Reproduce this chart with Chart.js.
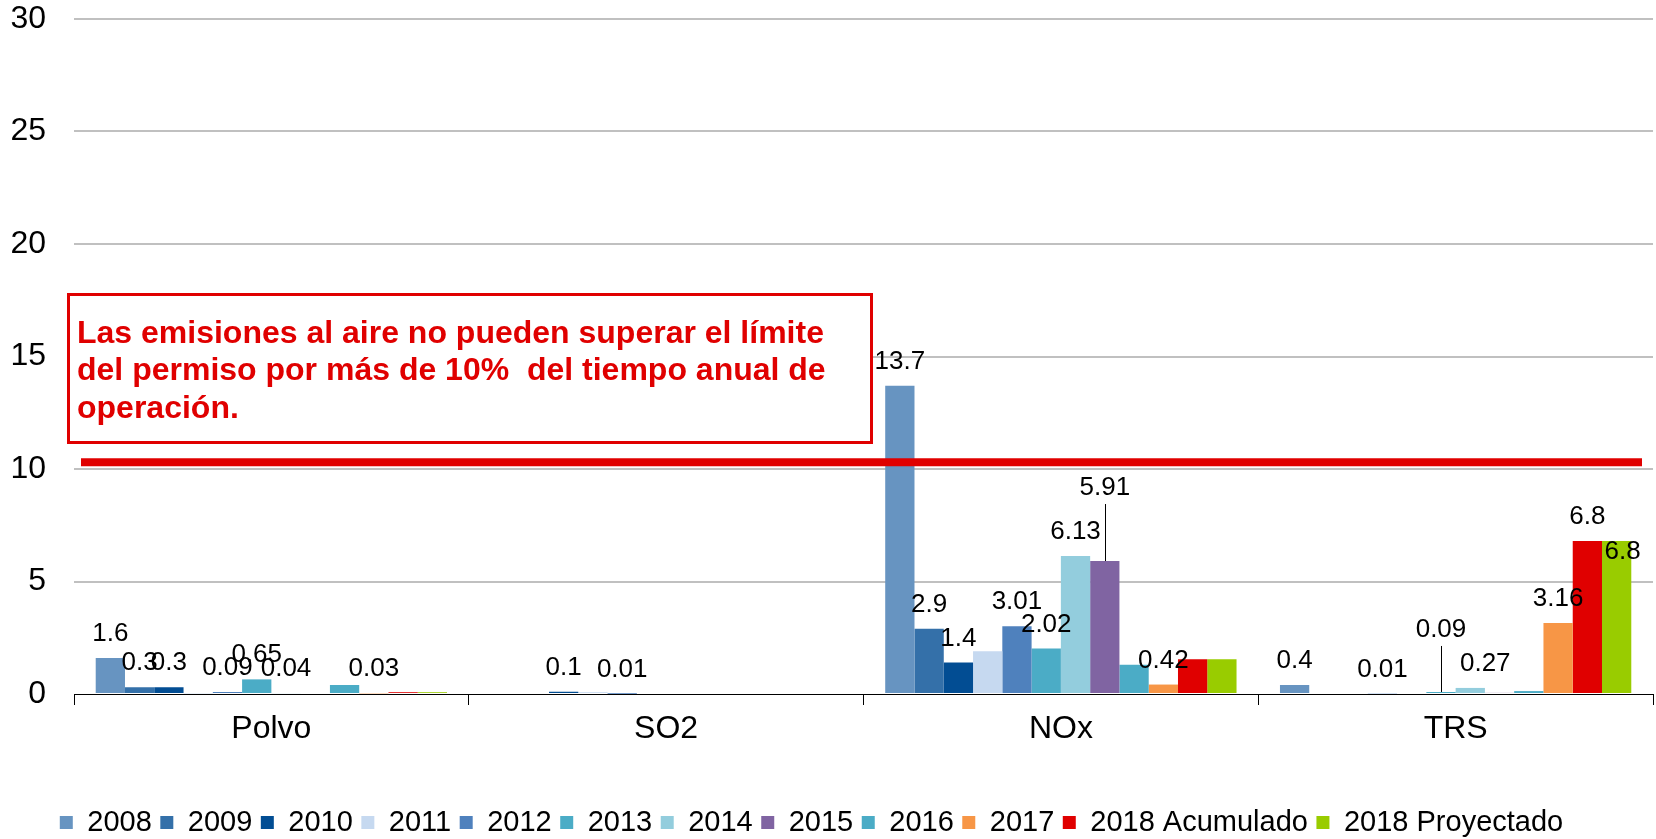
<!DOCTYPE html>
<html>
<head>
<meta charset="utf-8">
<script src="https://cdn.jsdelivr.net/npm/chart.js@4.4.1/dist/chart.umd.min.js"></script>
<style>
  html, body { margin: 0; padding: 0; background: #fff; }
  canvas { display: block; }
</style>
</head>
<body>
<canvas id="chart" width="1656" height="839"></canvas>
<script>
const categories = ["Polvo", "SO2", "NOx", "TRS"];
const seriesNames = ["2008", "2009", "2010", "2011", "2012", "2013", "2014", "2015", "2016", "2017", "2018 Acumulado", "2018 Proyectado"];

// values per year, in category order
const v2008 = [1.6, 0, 13.7, 0.4];
const v2009 = [0.3, 0, 2.9, 0];
const v2010 = [0.3, 0.1, 1.4, 0];
const v2011 = [0.03, 0.08, 1.9, 0.01];
const v2012 = [0.09, 0.01, 3.01, 0];
const v2013 = [0.65, 0, 2.02, 0.09];
const v2014 = [0.04, 0, 6.13, 0.27];
const v2015 = [0, 0, 5.91, 0.05];
const v2016 = [0.4, 0, 1.3, 0.13];
const v2017 = [0.03, 0, 0.42, 3.16];
const v2018a = [0.08, 0, 1.55, 6.8];
const v2018p = [0.08, 0, 1.55, 6.8];
const seriesValues = [v2008, v2009, v2010, v2011, v2012, v2013, v2014, v2015, v2016, v2017, v2018a, v2018p];

// which points carry a value label (category indexes)
const labelled = [[0, 2, 3], [0, 2], [0, 1, 2], [3], [0, 1, 2], [0, 2, 3], [0, 2, 3], [2], [], [0, 2, 3], [3], [3]];

const yMin = 0;
const yMax = 30;
const yStep = 5;
const limitValue = 10.3;
const noteLines = [
  "Las emisiones al aire no pueden superar el límite",
  "del permiso por más de 10%  del tiempo anual de",
  "operación."
];

const colors = ["#6794C1", "#3470A9", "#024D93", "#C6D9F0", "#4F81BD", "#4BACC6", "#93CDDD", "#8064A2", "#4BACC6", "#F79646", "#E00000", "#99CC00"];
const RED = "#E00000";
const FONT = "'Liberation Sans', Arial, sans-serif";

// label shifts where the original moved a label off its bar: [dx, dy, leader line]
const nudges = {
  "7-2": [0, -49, true],
  "5-3": [0, -38, true],
  "6-3": [15, 0, false],
  "11-3": [6, 35, false]
};

const overlay = {
  id: "overlay",
  afterDatasetsDraw(chart) {
    const ctx = chart.ctx;
    const area = chart.chartArea;
    const y = chart.scales.y;
    ctx.save();

    // limit line
    const ly = y.getPixelForValue(limitValue);
    ctx.strokeStyle = RED;
    ctx.lineWidth = 8;
    ctx.beginPath();
    ctx.moveTo(area.left + 7, ly);
    ctx.lineTo(area.right - 11, ly);
    ctx.stroke();

    // note box
    const bx = area.left - 5.5, by = area.top + 275.5;
    ctx.fillStyle = "#fff";
    ctx.fillRect(bx, by, 803, 148);
    ctx.lineWidth = 3;
    ctx.strokeRect(bx, by, 803, 148);
    ctx.fillStyle = RED;
    ctx.font = "bold 32px " + FONT;
    ctx.textAlign = "left";
    ctx.textBaseline = "alphabetic";
    noteLines.forEach((t, i) => ctx.fillText(t, area.left + 3, area.top + 323.7 + i * 37.5));

    // value labels
    ctx.fillStyle = "#000";
    ctx.strokeStyle = "#000";
    ctx.lineWidth = 1;
    ctx.font = "26px " + FONT;
    ctx.textAlign = "center";
    labelled.forEach((idxs, s) => {
      const meta = chart.getDatasetMeta(s);
      idxs.forEach(i => {
        const bar = meta.data[i];
        const n = nudges[s + "-" + i] || [0, 0, false];
        const tx = bar.x + n[0];
        const ty = bar.y - 17 + n[1];
        ctx.fillText(String(seriesValues[s][i]), tx, ty);
        if (n[2]) {
          ctx.beginPath();
          ctx.moveTo(Math.round(bar.x) + 0.5, ty + 9);
          ctx.lineTo(Math.round(bar.x) + 0.5, bar.y);
          ctx.stroke();
        }
      });
    });
    ctx.restore();
  }
};

const ctx = document.getElementById("chart").getContext("2d");
new Chart(ctx, {
  type: "bar",
  data: {
    labels: categories,
    datasets: seriesNames.map((name, s) => ({
      label: name,
      data: seriesValues[s],
      backgroundColor: colors[s],
      borderColor: colors[s],
      borderWidth: 0,
      barPercentage: 1,
      categoryPercentage: 0.89
    }))
  },
  options: {
    responsive: false,
    animation: false,
    devicePixelRatio: 1,
    layout: { padding: { left: -30, right: 3, top: 19, bottom: -8 } },
    plugins: {
      legend: {
        position: "bottom",
        labels: { boxWidth: 13, boxHeight: 13, padding: 8.5, color: "#000", font: { size: 29, family: FONT } }
      },
      tooltip: { enabled: false }
    },
    scales: {
      x: {
        grid: { offset: true, drawOnChartArea: false, drawTicks: true, tickLength: 11, color: "#000", lineWidth: 1 },
        border: { color: "#000", width: 1 },
        ticks: { color: "#000", font: { size: 32, family: FONT }, padding: 5 },
        afterFit: (s) => { s.height = 105.5; }
      },
      y: {
        min: yMin,
        max: yMax,
        ticks: { stepSize: yStep, color: "#000", font: { size: 32, family: FONT }, padding: 28 },
        grid: {
          drawTicks: false,
          lineWidth: 2,
          color: (c) => (c.tick && c.tick.value === 0 ? "rgba(0,0,0,0)" : "#C0C0C0")
        },
        border: { display: false },
        afterFit: (s) => { s.width = 104; s.paddingTop = 0; s.paddingBottom = 0; }
      }
    }
  },
  plugins: [overlay]
});
</script>
</body>
</html>
